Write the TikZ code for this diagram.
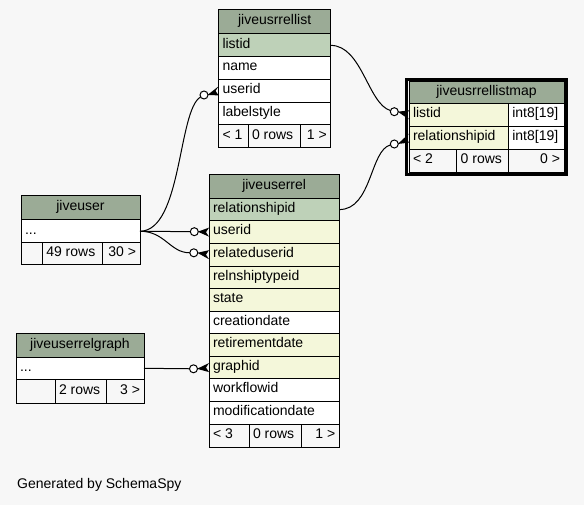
\documentclass[tikz,border=0pt]{standalone}
\usepackage{fontspec}
\setmainfont{Liberation Sans}
\usetikzlibrary{calc}
\definecolor{hdr}{HTML}{9BAB96}
\definecolor{pk}{HTML}{BED1B8}
\definecolor{idx}{HTML}{F4F7DA}
\definecolor{bg}{HTML}{F7F7F7}
\tikzset{
  cell/.style={draw, line width=1pt, inner xsep=4pt, inner ysep=0pt, outer sep=0pt,
    anchor=north west, text height=9.6pt, text depth=4pt, font=\fontsize{14}{16}\selectfont},
  conn/.style={line width=1pt},
  odot/.style={circle, draw, line width=1pt, fill=white, minimum size=8pt, inner sep=0pt, outer sep=0pt},
}
\newcommand\tcell[8]{\node[cell, fill=#6, minimum width=#4pt, minimum height=#5pt] (#1) at (#2,#3) {\makebox[\dimexpr#4pt-8pt\relax][#7]{#8}};}
\newcommand\crowfoot[2]{\fill ($(#1.east)+(-0.5,0)$) -- ($(#2.west)+(0,-4.5)$) -- ($(#2.west)+(-3,0)$) -- ($(#2.west)+(0,4.5)$) -- cycle;}
\begin{document}
\begin{tikzpicture}[x=1pt,y=-1pt]
\fill[bg] (0,0) rectangle (584,505);
\useasboundingbox (0,0) rectangle (584,505);

% jiveusrrellist
\tcell{A}{218.5}{10}{112.2}{24}{hdr}{c}{jiveusrrellist}
\tcell{A-listid}{218.5}{34}{112.2}{22.75}{pk}{l}{listid}
\tcell{A-name}{218.5}{56.75}{112.2}{22.75}{white}{l}{name}
\tcell{A-userid}{218.5}{79.5}{112.2}{22.75}{white}{l}{userid}
\tcell{A-labelstyle}{218.5}{102.25}{112.2}{22.75}{white}{l}{labelstyle}
\tcell{A-f1}{218.5}{125}{29.5}{23}{bg}{l}{< 1}
\tcell{A-f2}{248}{125}{52.7}{23}{bg}{l}{0 rows}
\tcell{A-f3}{300.7}{125}{30}{23}{bg}{r}{1 >}

% jiveusrrellistmap
\tcell{B}{409}{81.5}{155}{21.8}{hdr}{c}{jiveusrrellistmap}
\tcell{B-listid}{409}{103.3}{99.3}{23.2}{idx}{l}{listid}
\tcell{B-listid-t}{508.3}{103.3}{55.7}{23.2}{white}{l}{int8[19]}
\tcell{B-relationshipid}{409}{126.5}{99.3}{23.2}{idx}{l}{relationshipid}
\tcell{B-relationshipid-t}{508.3}{126.5}{55.7}{23.2}{white}{l}{int8[19]}
\tcell{B-f1}{409}{149.7}{47.7}{22.5}{bg}{l}{< 2}
\tcell{B-f2}{456.7}{149.7}{51.6}{22.5}{bg}{l}{0 rows}
\tcell{B-f3}{508.3}{149.7}{55.7}{22.5}{bg}{r}{0 >}
\draw[line width=3pt] ($(B.north west)+(-2.5,-2)$) rectangle ($(B-f3.south east)+(2.5,2.5)$);

% jiveuser
\tcell{C}{21}{195.7}{119}{24.3}{hdr}{c}{jiveuser}
\tcell{C-dots}{21}{220}{119}{22.5}{white}{l}{...}
\tcell{C-f1}{21}{242.5}{21.3}{22.5}{bg}{l}{}
\tcell{C-f2}{42.3}{242.5}{60}{22.5}{bg}{l}{49 rows}
\tcell{C-f3}{102.3}{242.5}{37.7}{22.5}{bg}{r}{30 >}

% jiveuserrel
\tcell{D}{209}{175}{130.3}{23.3}{hdr}{c}{jiveuserrel}
\tcell{D-relationshipid}{209}{198.3}{130.3}{22.57}{pk}{l}{relationshipid}
\tcell{D-userid}{209}{220.87}{130.3}{22.57}{idx}{l}{userid}
\tcell{D-relateduserid}{209}{243.44}{130.3}{22.57}{idx}{l}{relateduserid}
\tcell{D-relnshiptypeid}{209}{266.01}{130.3}{22.57}{idx}{l}{relnshiptypeid}
\tcell{D-state}{209}{288.58}{130.3}{22.57}{idx}{l}{state}
\tcell{D-creationdate}{209}{311.15}{130.3}{22.57}{white}{l}{creationdate}
\tcell{D-retirementdate}{209}{333.72}{130.3}{22.57}{idx}{l}{retirementdate}
\tcell{D-graphid}{209}{356.29}{130.3}{22.57}{idx}{l}{graphid}
\tcell{D-workflowid}{209}{378.86}{130.3}{22.57}{white}{l}{workflowid}
\tcell{D-modificationdate}{209}{401.43}{130.3}{22.57}{white}{l}{modificationdate}
\tcell{D-f1}{209}{424}{40}{23.3}{bg}{l}{< 3}
\tcell{D-f2}{249}{424}{52.7}{23.3}{bg}{l}{0 rows}
\tcell{D-f3}{301.7}{424}{37.6}{23.3}{bg}{r}{1 >}

% jiveuserrelgraph
\tcell{E}{16}{333.3}{128}{24}{hdr}{c}{jiveuserrelgraph}
\tcell{E-dots}{16}{357.3}{128}{22}{white}{l}{...}
\tcell{E-f1}{16}{379.3}{39}{24}{bg}{l}{}
\tcell{E-f2}{55}{379.3}{51.7}{24}{bg}{l}{2 rows}
\tcell{E-f3}{106.7}{379.3}{37.3}{24}{bg}{r}{3 >}

% circles
\node[odot] (o1) at (394.3,111.7) {};
\node[odot] (o2) at (394.3,144) {};
\node[odot] (o3) at (204,95) {};
\node[odot] (o4) at (194.3,231.7) {};
\node[odot] (o5) at (193.8,252.8) {};
\node[odot] (o6) at (193.5,368.8) {};

% connectors
\draw[conn] (A-listid.east) .. controls (362,45.4) and (368,104) .. (o1);
\draw[conn] (D-relationshipid.east) .. controls (372,209.6) and (370,150) .. (o2);
\draw[conn] (C-dots.east) .. controls (182,231) and (178,110) .. (o3);
\draw[conn] (C-dots.east) -- (o4);
\draw[conn] (C-dots.east) .. controls (165,231.3) and (170,252.8) .. (o5);
\draw[conn] (E-dots.east) -- (o6);

% crow's feet
\crowfoot{o1}{B-listid}
\crowfoot{o2}{B-relationshipid}
\crowfoot{o3}{A-userid}
\crowfoot{o4}{D-userid}
\crowfoot{o5}{D-relateduserid}
\crowfoot{o6}{D-graphid}

\node[anchor=base west, inner sep=0pt, font=\fontsize{14}{16}\selectfont] (gen) at (17,488) {Generated by SchemaSpy};
\end{tikzpicture}
\end{document}
